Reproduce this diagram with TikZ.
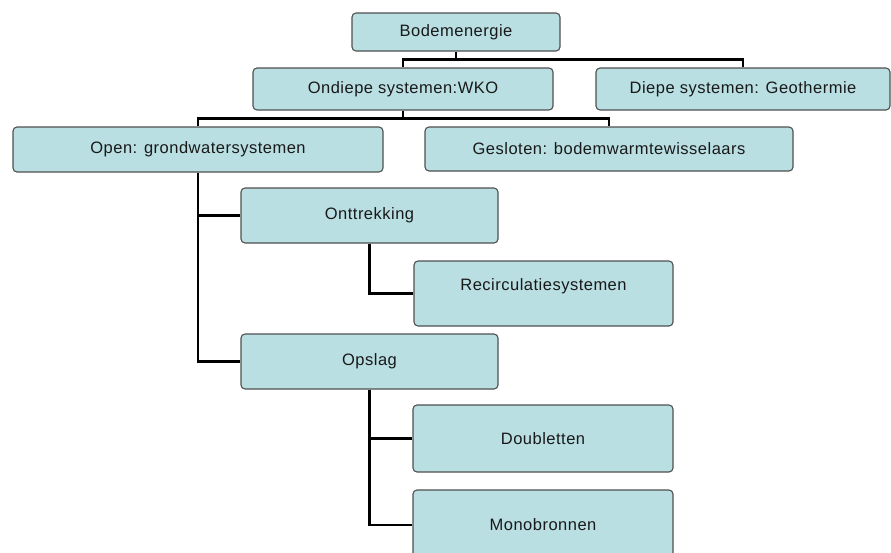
\documentclass[tikz,border=0pt]{standalone}
\usepackage{fontspec}
\setmainfont{Liberation Sans}
\begin{document}
\begin{tikzpicture}[x=1pt,y=-1pt,
  box/.style={draw=boxline, fill=boxfill, line width=1.1pt, rounded corners=4pt,
    inner sep=0pt, text=black!90, font=\fontsize{16.5}{18}\selectfont\addfontfeature{LetterSpace=3}},
  conn/.style={draw=black, line width=2.2pt}]
\definecolor{boxfill}{RGB}{185,223,227}
\definecolor{boxline}{RGB}{80,80,80}
\useasboundingbox (0,0) rectangle (891,552);
\clip (0,0) rectangle (891,552);
\node[box, minimum width=208pt, minimum height=38pt] (bodem) at (456,32) {Bodemenergie};
\node[box, minimum width=300pt, minimum height=42pt] (ondiepe) at (403,89) {Ondiepe systemen:WKO};
\node[box, minimum width=294pt, minimum height=42pt] (diepe) at (743,89) {Diepe systemen: Geothermie};
\node[box, minimum width=370pt, minimum height=45pt] (open) at (198,149.5) {Open: grondwatersystemen};
\node[box, minimum width=368pt, minimum height=44pt] (gesloten) at (609,149) {Gesloten: bodemwarmtewisselaars};
\node[box, minimum width=257pt, minimum height=55pt] (ontt) at (369.5,215.5) {Onttrekking};
\node[box, minimum width=259pt, minimum height=65pt, text height=29pt, text depth=36pt] (recirc) at (543.5,293.5) {Recirculatiesystemen};
\node[box, minimum width=257pt, minimum height=55pt] (opslag) at (369.5,361.5) {Opslag};
\node[box, minimum width=260pt, minimum height=67pt] (doub) at (543,438.5) {Doubletten};
\node[box, minimum width=260pt, minimum height=70pt] (mono) at (543,525) {Monobronnen};
\draw[conn] (bodem.south) -- ++(0,8) coordinate (b1) -| (ondiepe.north);
\draw[conn] (b1) -| (diepe.north);
\draw[conn] (ondiepe.south) -- ++(0,8) coordinate (o1) -| (open.north);
\draw[conn] (o1) -| (gesloten.north);
\draw[conn] (open.south) |- (ontt.west);
\draw[conn] (open.south) |- (opslag.west);
\draw[conn] (ontt.south) |- (recirc.west);
\draw[conn] (opslag.south) |- (doub.west);
\draw[conn] (opslag.south) |- (mono.west);
\end{tikzpicture}
\end{document}
